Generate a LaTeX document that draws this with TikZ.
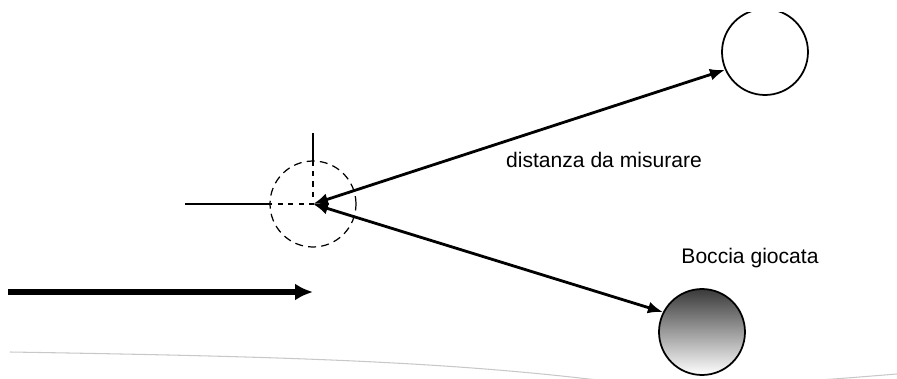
\documentclass[tikz,border=0pt]{standalone}
\usepackage{fontspec}
\setmainfont{Liberation Sans}
\usepackage{tikz}
\usetikzlibrary{shapes,arrows.meta,positioning,calc}
\definecolor{ballgray}{HTML}{3A3A3A}
\definecolor{groundgray}{HTML}{C8C8C8}

\tikzset{
    ball/.style={circle, draw, line width=1pt, minimum size=1.72cm, inner sep=0pt},
    distarrow/.style={line width=1.6pt, {Latex[length=0.3cm,width=0.24cm]}-{Latex[length=0.3cm,width=0.24cm]}},
    axisline/.style={line width=0.7pt},
    label/.style={font=\fontsize{12}{14}\selectfont, anchor=base}
}

\begin{document}
\begin{tikzpicture}[x=0.02cm,y=-0.02cm]
\useasboundingbox (0,0) rectangle (897,379);
\begin{scope}
\clip (0,12) rectangle (897,379);
% balls
\node[ball, dashed, line width=0.7pt, dash pattern=on 4.5pt off 3pt] (pallino) at (313,204) {};
\node[ball] (boccia) at (765,52) {};
\node[ball, top color=ballgray, middle color=black!30, bottom color=white] (giocata) at (702,332) {};
% crosshair on the jack
\coordinate (crosstop) at (313,133);
\coordinate (crossleft) at (185,204);
\draw[axisline] (crosstop) -- (pallino.north);
\draw[axisline] (crossleft) -- (pallino.west);
\draw[axisline, dashed] (pallino.north) -- (pallino.center) -- (pallino.west);
% distances
\draw[distarrow] (pallino.center) -- (boccia.204);
\draw[distarrow] (pallino.center) -- (giocata.153);
% direction of play
\coordinate (playstart) at (8,292);
\draw[line width=0.12cm, -{Latex[length=0.36cm,width=0.34cm]}] (playstart) -- (pallino.center |- playstart);
% ground line
\draw[groundgray, line width=0.6pt] (10,352) .. controls (250,356) and (420,360) .. (580,378) .. controls (700,392) and (820,380) .. (897,374);
\end{scope}
\node[label] (dist) at (604,167) {distanza da misurare};
\node[label] (giocatalbl) at (750,263) {Boccia giocata};
\end{tikzpicture}
\end{document}
